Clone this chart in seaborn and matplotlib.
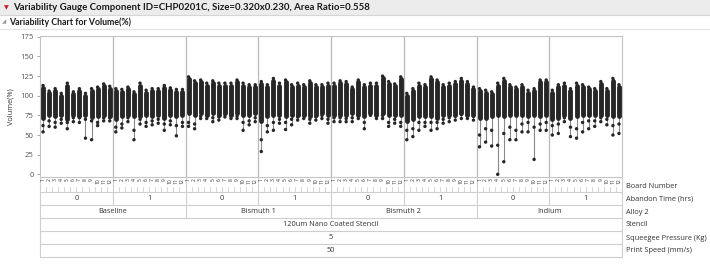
import numpy as np
import pandas as pd
import matplotlib
matplotlib.use("Agg")
import matplotlib.pyplot as plt
import seaborn as sns

# ---------------- data ----------------
alloys = ["Baseline", "Bismuth 1", "Bismuth 2", "Indium"]
abandon_times = ["0", "1"]
boards = [str(i) for i in range(1, 13)]
stencil = "120um Nano Coated Stencil"
squeegee = "5"
print_speed = "50"
row_labels = ["Board Number", "Abandon Time (hrs)", "Alloy 2", "Stencil",
              "Squeegee Pressure (Kg)", "Print Speed (mm/s)"]
y_ticks = [0, 25, 50, 75, 100, 125, 150, 175]

# per board (8 groups x 12 boards): highest point, lowest point,
# bottom of the dense cloud, one extra low point
top_vals = [
    113, 106, 109, 103, 116, 105, 109, 103, 109, 111, 115, 112,   # Baseline 0
    109, 108, 111, 105, 116, 107, 109, 109, 113, 110, 108, 108,   # Baseline 1
    124, 119, 120, 116, 119, 116, 116, 116, 120, 116, 114, 114,   # Bismuth 1 0
    118, 114, 122, 116, 120, 114, 116, 114, 119, 114, 114, 116,   # Bismuth 1 1
    116, 119, 118, 111, 120, 114, 116, 116, 125, 118, 115, 124,   # Bismuth 2 0
    103, 109, 116, 114, 124, 120, 114, 116, 118, 122, 118, 111,   # Bismuth 2 1
    109, 107, 105, 116, 122, 114, 111, 114, 107, 109, 120, 120,   # Indium 0
    107, 114, 116, 109, 116, 114, 111, 109, 118, 109, 122, 114,   # Indium 1
]
min_vals = [
    54, 61, 60, 65, 58, 67, 66, 46, 44, 62, 68, 68,
    54, 59, 67, 44, 64, 61, 63, 65, 56, 63, 49, 61,
    61, 58, 71, 71, 67, 69, 73, 71, 71, 56, 63, 67,
    29, 54, 56, 65, 57, 63, 69, 71, 65, 69, 71, 65,
    67, 67, 67, 67, 71, 58, 75, 71, 71, 61, 65, 61,
    44, 48, 56, 61, 56, 58, 65, 67, 69, 71, 71, 69,
    35, 41, 36, 0, 16, 44, 44, 54, 54, 19, 56, 56,
    50, 52, 67, 48, 46, 54, 58, 61, 67, 63, 50, 52,
]
bulk_low = [
    72, 76, 74, 76, 71, 76, 74, 76, 73, 74, 76, 74,
    70, 74, 76, 74, 74, 76, 74, 76, 72, 76, 74, 76,
    78, 76, 78, 76, 78, 76, 78, 76, 78, 76, 76, 78,
    68, 74, 76, 76, 74, 76, 76, 76, 74, 76, 78, 76,
    76, 76, 76, 78, 76, 74, 78, 76, 78, 76, 76, 76,
    68, 70, 74, 74, 74, 72, 76, 76, 76, 78, 76, 76,
    72, 72, 74, 76, 74, 76, 76, 76, 74, 76, 74, 76,
    70, 72, 76, 72, 74, 76, 76, 76, 76, 76, 74, 74,
]
low2_vals = [
    62, 68, 66, 70, 66, 72, 72, 70, 68, 66, 72, 72,
    60, 64, 72, 56, 70, 66, 68, 70, 64, 68, 62, 66,
    66, 64, 74, 75, 72, 73, 76, 74, 74, 66, 68, 72,
    44, 62, 66, 70, 66, 70, 73, 75, 70, 73, 75, 70,
    72, 72, 71, 72, 75, 66, 78, 75, 75, 66, 70, 66,
    56, 58, 66, 66, 66, 66, 70, 72, 74, 76, 76, 74,
    50, 58, 56, 37, 52, 60, 56, 64, 66, 60, 64, 66,
    62, 64, 72, 60, 58, 66, 68, 68, 72, 70, 62, 64,
]

n = len(top_vals)
pos = np.arange(n) + 0.5
df = pd.DataFrame({
    "pos": np.concatenate([pos, pos, pos]),
    "value": np.concatenate([top_vals, min_vals, low2_vals]),
})

# ---------------- figure ----------------
W, H = 710, 265
fig = plt.figure(figsize=(W / 100, H / 100), dpi=100)
fig.patch.set_facecolor("white")
FONT = ["Open Sans", "DejaVu Sans"]
HFONT = ["Lato", "DejaVu Sans"]

def fx(px):
    return px / W

def fy(py):
    return 1 - py / H

# header bands
fig.patches.append(plt.Rectangle((0, fy(15)), 1, 15 / H, transform=fig.transFigure,
                                 facecolor="#ececec", edgecolor="none", zorder=0))
fig.lines.append(plt.Line2D([0, 1], [fy(15), fy(15)], transform=fig.transFigure,
                            color="#d6d6d6", lw=0.8))
fig.lines.append(plt.Line2D([0, 1], [fy(29), fy(29)], transform=fig.transFigure,
                            color="#e4e4e4", lw=0.8))
fig.text(fx(6), fy(7.5), "\u25BC", color="#c8202a", fontsize=4.5, ha="center", va="center")
fig.text(fx(13), fy(7.5),
         "Variability Gauge Component ID=CHP0201C, Size=0.320x0.230, Area Ratio=0.558",
         fontsize=6.9, fontweight="bold", family=HFONT, ha="left", va="center", color="#1a1a1a")
fig.text(fx(4.5), fy(22), "\u25E2", color="#9a9a9a", fontsize=4, ha="center", va="center")
fig.text(fx(9), fy(22), "Variability Chart for Volume(%)",
         fontsize=6.3, fontweight="bold", family=HFONT, ha="left", va="center", color="#1a1a1a")

# main axes
L, R, T, B = 40, 622, 36, 177
ax = fig.add_axes([fx(L), fy(B), (R - L) / W, (B - T) / H])
ax.set_xlim(0, n)
ax.set_ylim(-3.4, 176)
for s in ax.spines.values():
    s.set_color("#c4c4c4")
    s.set_linewidth(0.8)
ax.set_xticks([])
ax.set_yticks(y_ticks)
ax.set_yticklabels([str(t) for t in y_ticks], fontsize=5.6, color="#555555", family=FONT)
ax.tick_params(axis="y", length=2.5, width=0.6, color="#999999", pad=2)
ax.set_ylabel("Volume(%)", fontsize=5.3, color="#333333", family=FONT, labelpad=4)

# group separators
for g in range(1, 8):
    ax.axvline(g * 12, color="#b8b8b8", lw=0.9, zorder=1)

# range lines (min to top) and dense cloud
ax.vlines(pos, min_vals, top_vals, color="#8a8a8a", lw=0.8, zorder=2)
ax.vlines(pos, bulk_low, np.array(top_vals) - 3, color="#262626", lw=3.5,
          capstyle="round", zorder=3)
sns.scatterplot(data=df, x="pos", y="value", ax=ax, color="#262626", s=6,
                edgecolor="none", zorder=4, legend=False)
ax.set_xlabel("")

# ---------------- table below ----------------
tb_top, tb_bot = 177, 257
tx = fig.add_axes([fx(L), fy(tb_bot), (R - L) / W, (tb_bot - tb_top) / H])
tx.set_xlim(0, n)
tx.set_ylim(tb_bot, tb_top)
tx.axis("off")
rows = [177, 192, 204.5, 218, 231, 244, 257]
lc = "#cfcfcf"
for yv in rows[1:]:
    tx.plot([0, n], [yv, yv], color=lc, lw=0.8, clip_on=False)
tx.plot([0, 0], [rows[0], rows[-1]], color=lc, lw=0.8, clip_on=False)
tx.plot([n, n], [rows[0], rows[-1]], color=lc, lw=0.8, clip_on=False)
# board ticks
for i in range(1, n):
    if i % 24 == 0:
        tx.plot([i, i], [rows[0], rows[3]], color=lc, lw=0.8)
    elif i % 12 == 0:
        tx.plot([i, i], [rows[0], rows[2]], color=lc, lw=0.8)
    else:
        tx.plot([i, i], [187, rows[1]], color=lc, lw=0.6)
# board numbers
for i in range(n):
    tx.text(i + 0.5, 178, boards[i % 12], rotation=90, fontsize=3.6, ha="center",
            va="top", color="#333333", family=FONT)
# abandon time
for g in range(8):
    tx.text(g * 12 + 6, (rows[1] + rows[2]) / 2, abandon_times[g % 2], fontsize=5.3,
            ha="center", va="center", color="#333333", family=FONT)
# alloys
for a in range(4):
    tx.text(a * 24 + 12, (rows[2] + rows[3]) / 2, alloys[a], fontsize=5.3,
            ha="center", va="center", color="#333333", family=FONT)
tx.text(n / 2, (rows[3] + rows[4]) / 2, stencil, fontsize=5.3, ha="center", va="center",
        color="#333333", family=FONT)
tx.text(n / 2, (rows[4] + rows[5]) / 2, squeegee, fontsize=5.3, ha="center", va="center",
        color="#333333", family=FONT)
tx.text(n / 2, (rows[5] + rows[6]) / 2, print_speed, fontsize=5.3, ha="center", va="center",
        color="#333333", family=FONT)

# row labels on the right
for k, lab in enumerate(row_labels):
    fig.text(fx(626), fy(186 + k * 13), lab, fontsize=5.3, ha="left", va="center",
             color="#333333", family=FONT)

fig.savefig("out.png", dpi=100)
